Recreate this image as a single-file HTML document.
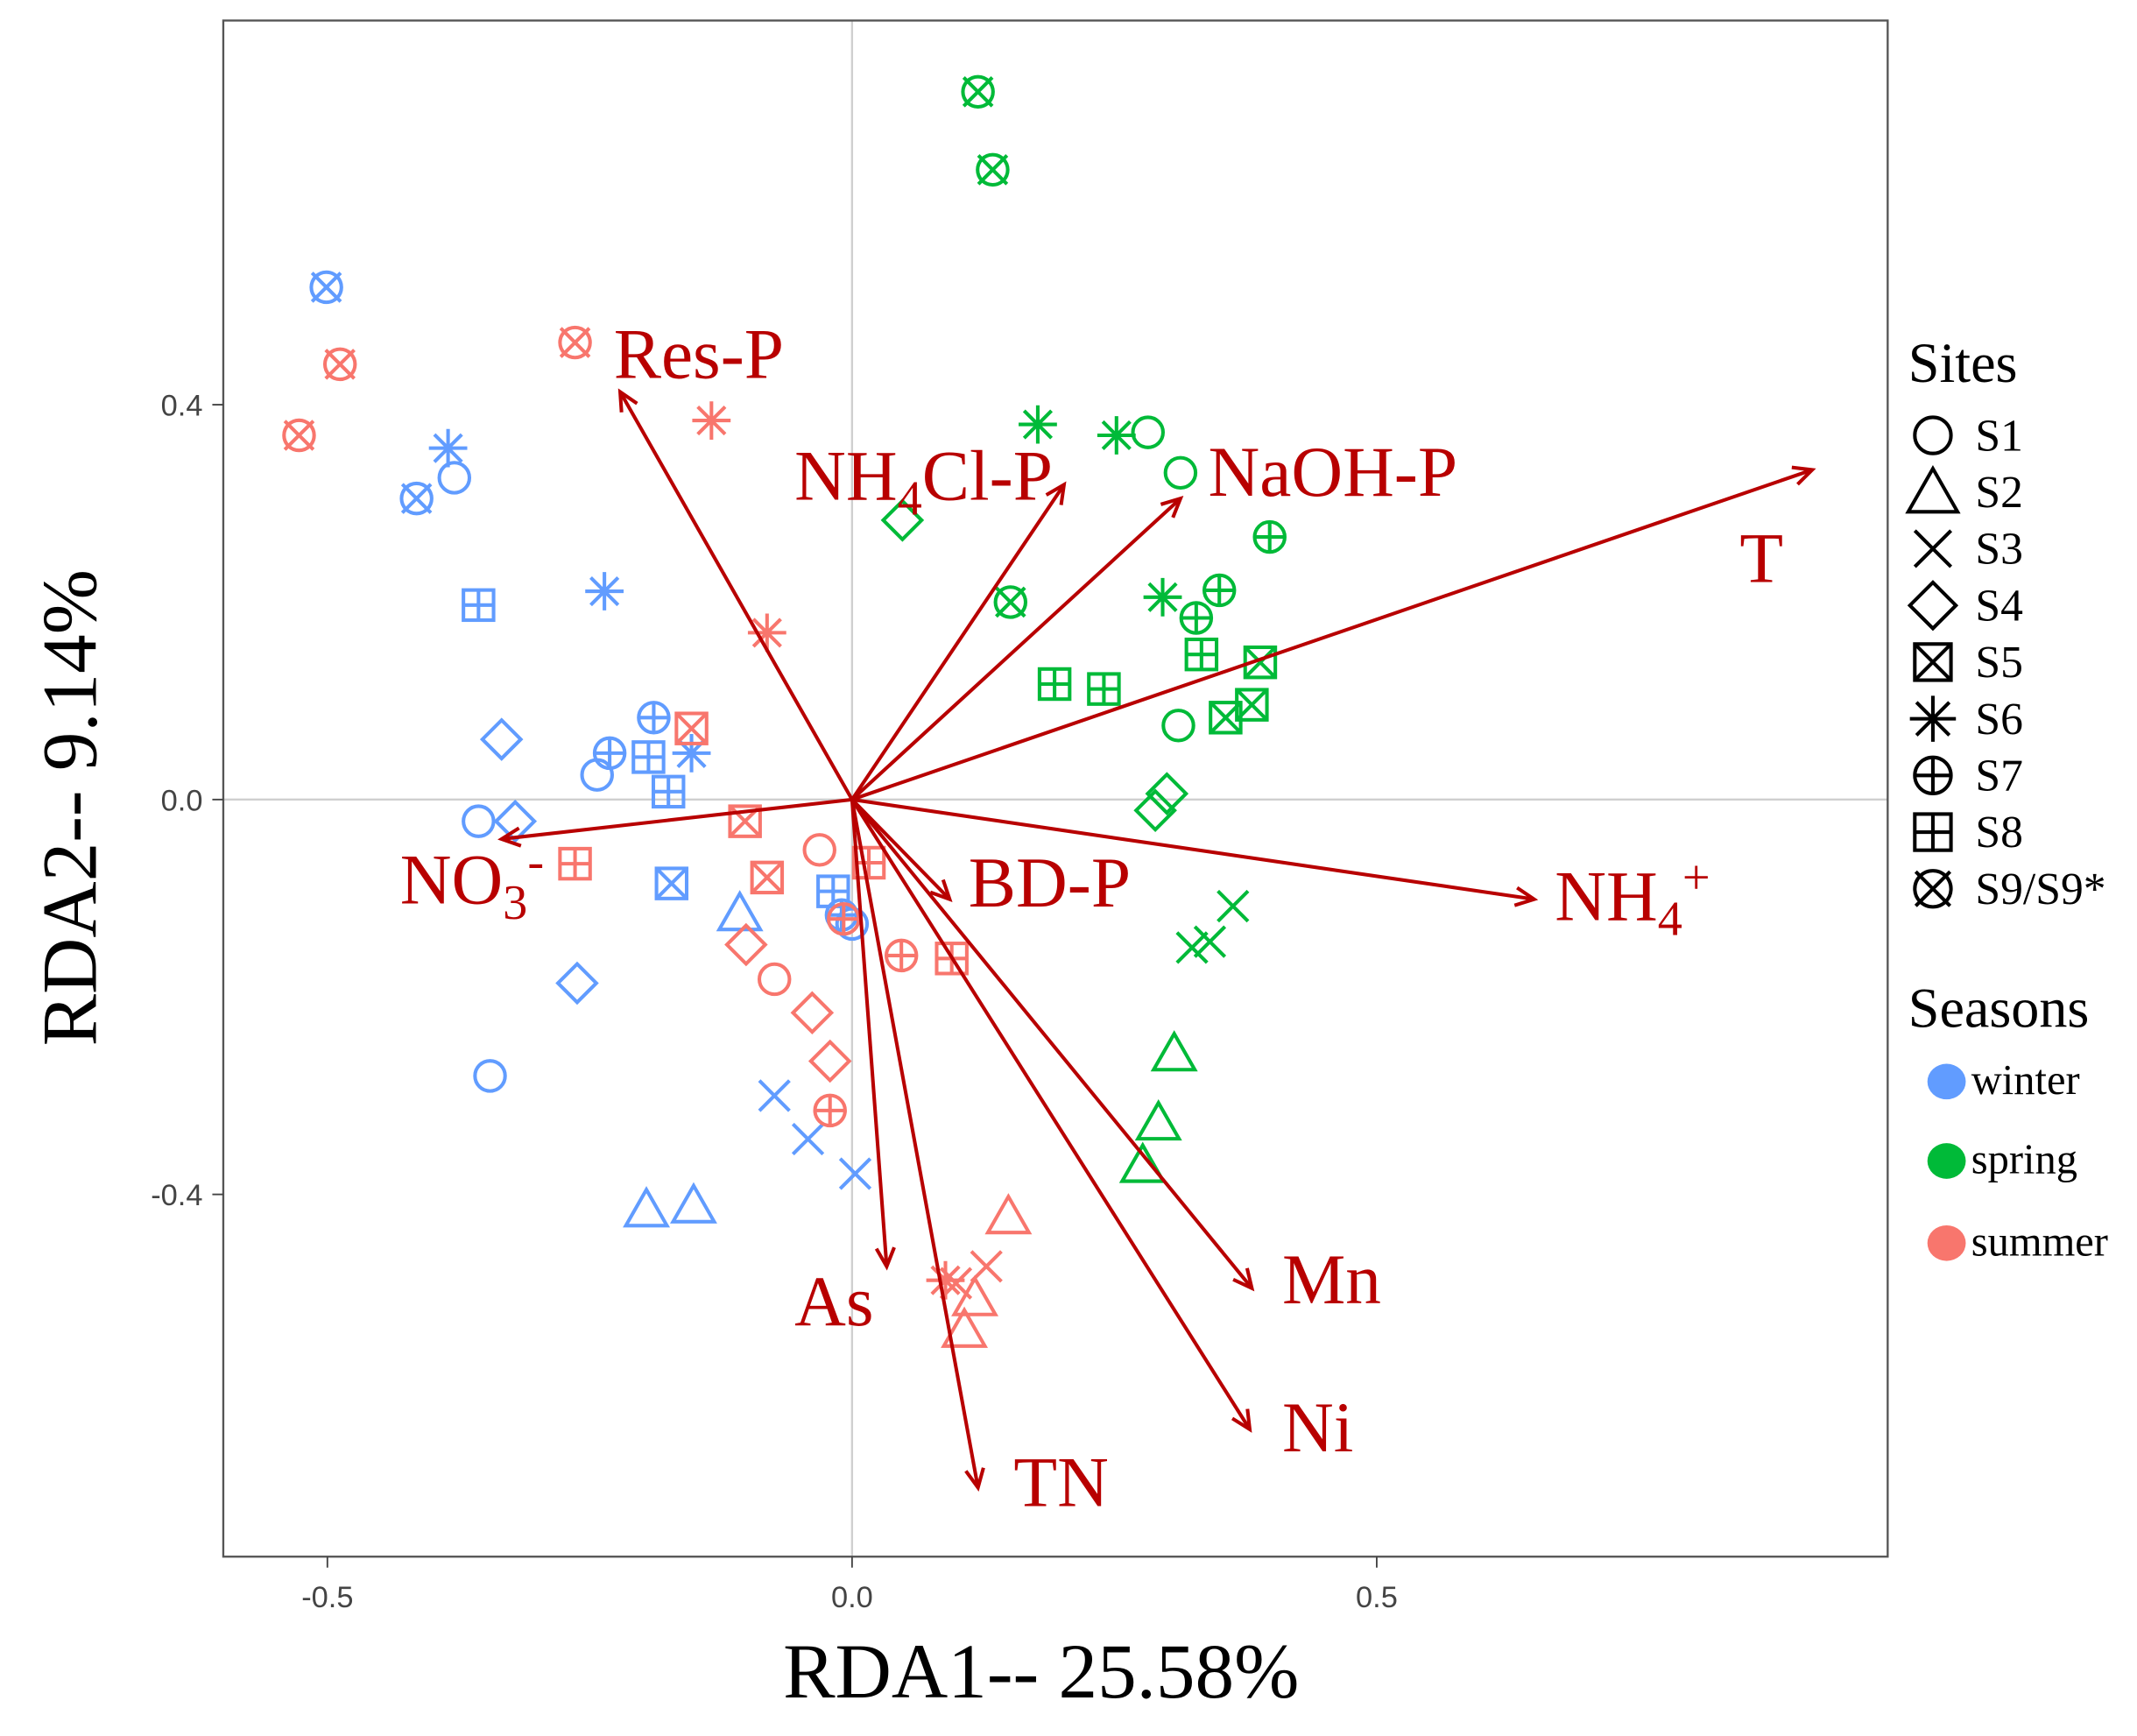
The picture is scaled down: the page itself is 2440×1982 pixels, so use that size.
<!DOCTYPE html>
<html><head><meta charset="utf-8"><style>html,body{margin:0;padding:0;background:#fff}svg{display:block}</style></head>
<body>
<svg id="chart" width="2440" height="1982" viewBox="0 0 1560 1268" preserveAspectRatio="none" xmlns="http://www.w3.org/2000/svg" font-family="'Liberation Serif', serif">
<defs><clipPath id="clip"><rect x="163" y="15" width="1215" height="1122"/></clipPath></defs>
<rect x="163" y="15" width="1215" height="1122" fill="#fff"/>
<g id="grid"></g>
<g id="points" clip-path="url(#clip)"></g>
<g id="arrows"></g>
<rect x="163" y="15" width="1215" height="1122" fill="none" stroke="#555" stroke-width="1.5"/>
<g id="axes"></g>
<text x="760" y="1240" font-size="57" text-anchor="middle" fill="#000">RDA1-- 25.58%</text>
<text transform="translate(70,590) rotate(-90)" font-size="57" text-anchor="middle" fill="#000">RDA2-- 9.14%</text>
<g id="legend"></g>
</svg>
<script>
const NS="http://www.w3.org/2000/svg";
const xTicks=[-0.5,0.0,0.5];
const xTickLabels=["-0.5","0.0","0.5"];
const yTicks=[-0.4,0.0,0.4];
const yTickLabels=["-0.4","0.0","0.4"];
const seasons=["winter","spring","summer"];
const seasonColors={winter:"#619cff",spring:"#00ba38",summer:"#f8766d"};
const sites=["S1","S2","S3","S4","S5","S6","S7","S8","S9"];
const siteLabels=["S1","S2","S3","S4","S5","S6","S7","S8","S9/S9*"];
// sample points: [site, RDA1, RDA2]
const winterPts=[["S9",-0.501,0.519],["S9",-0.415,0.305],["S6",-0.385,0.356],["S1",-0.379,0.326],["S8",-0.356,0.197],["S6",-0.236,0.211],["S4",-0.334,0.061],["S4",-0.321,-0.022],["S1",-0.356,-0.022],["S1",-0.345,-0.280],["S1",-0.243,0.025],["S7",-0.231,0.047],["S7",-0.189,0.083],["S8",-0.194,0.043],["S8",-0.175,0.008],["S6",-0.153,0.047],["S5",-0.172,-0.085],["S2",-0.107,-0.115],["S2",-0.196,-0.415],["S2",-0.151,-0.411],["S3",-0.074,-0.300],["S3",-0.042,-0.344],["S3",0.003,-0.379],["S4",-0.262,-0.186],["S8",-0.018,-0.093],["S7",-0.010,-0.117],["S1",0.0,-0.126]];
const springPts=[["S9",0.120,0.717],["S9",0.134,0.638],["S9",0.151,0.200],["S6",0.177,0.380],["S6",0.252,0.369],["S6",0.296,0.205],["S1",0.282,0.372],["S1",0.313,0.331],["S1",0.311,0.075],["S7",0.398,0.266],["S7",0.350,0.212],["S7",0.328,0.184],["S8",0.193,0.117],["S8",0.240,0.112],["S8",0.333,0.147],["S5",0.389,0.139],["S5",0.381,0.096],["S5",0.356,0.083],["S4",0.048,0.283],["S4",0.300,0.006],["S4",0.289,-0.011],["S3",0.363,-0.108],["S3",0.341,-0.144],["S3",0.324,-0.150],["S2",0.307,-0.257],["S2",0.292,-0.327],["S2",0.277,-0.370]];
const summerPts=[["S9",-0.527,0.369],["S9",-0.488,0.441],["S9",-0.264,0.463],["S6",-0.134,0.384],["S6",-0.081,0.169],["S5",-0.153,0.072],["S5",-0.102,-0.022],["S5",-0.081,-0.079],["S8",-0.264,-0.065],["S8",0.016,-0.064],["S8",0.095,-0.161],["S1",-0.031,-0.051],["S1",-0.074,-0.182],["S4",-0.101,-0.147],["S4",-0.038,-0.216],["S4",-0.021,-0.265],["S7",-0.008,-0.121],["S7",0.047,-0.158],["S7",-0.021,-0.315],["S2",0.149,-0.422],["S2",0.117,-0.505],["S2",0.107,-0.537],["S3",0.128,-0.473],["S3",0.099,-0.490],["S6",0.089,-0.487]];
const arrowNames=["T","NH4+","NaOH-P","NH4Cl-P","Res-P","NO3-","BD-P","As","TN","Mn","Ni"];
const arrowX=[0.915,0.650,0.313,0.202,-0.221,-0.334,0.093,0.033,0.120,0.381,0.379];
const arrowY=[0.334,-0.101,0.305,0.319,0.413,-0.040,-0.101,-0.473,-0.697,-0.495,-0.638];

function sx(v){return 622+v*766;}
function sy(v){return 584-v*721;}
function mk(tag,attrs,parent){const e=document.createElementNS(NS,tag);for(const k in attrs)e.setAttribute(k,attrs[k]);parent.appendChild(e);return e;}

const grid=document.getElementById('grid');
const gx=mk('line',{x1:sx(0),x2:sx(0),y1:15,y2:1137,stroke:'#cfcfcf','stroke-width':1.5},grid);


const gy=mk('line',{x1:163,x2:1378,y1:sy(0),y2:sy(0),stroke:'#cfcfcf','stroke-width':1.5},grid);



const axes=document.getElementById('axes');
xTicks.forEach((t,i)=>{
  const l=mk('line',{x1:sx(t),x2:sx(t),y1:1137,y2:1145,stroke:'#444','stroke-width':1.2},axes);
  
  
  const tx=mk('text',{x:sx(t),y:1174,'font-size':22,'text-anchor':'middle',fill:'#444','font-family':"'Liberation Sans', sans-serif"},axes);
  tx.textContent=xTickLabels[i];
  
  
});
yTicks.forEach((t,i)=>{
  const l=mk('line',{x1:155,x2:163,y1:sy(t),y2:sy(t),stroke:'#444','stroke-width':1.2},axes);
  
  
  const tx=mk('text',{x:148,y:sy(t)+8,'font-size':22,'text-anchor':'end',fill:'#444','font-family':"'Liberation Sans', sans-serif"},axes);
  tx.textContent=yTickLabels[i];
  
  
});

function drawShape(g,site,x,y,c,s){
  const a={fill:'none',stroke:c,'stroke-width':2.6};
  const r=11*s;
  if(site==='S1'){mk('circle',Object.assign({cx:x,cy:y,r:r},a),g);}
  else if(site==='S2'){const h=15*s;mk('polygon',Object.assign({points:`${x-h},${y+h*0.8} ${x+h},${y+h*0.8} ${x},${y-h*0.95}`},a),g);}
  else if(site==='S3'){mk('path',Object.assign({d:`M${x-r},${y-r}L${x+r},${y+r}M${x-r},${y+r}L${x+r},${y-r}`},a),g);}
  else if(site==='S4'){const h=14*s;mk('polygon',Object.assign({points:`${x},${y-h} ${x+h},${y} ${x},${y+h} ${x-h},${y}`},a),g);}
  else if(site==='S5'){mk('rect',Object.assign({x:x-r,y:y-r,width:2*r,height:2*r},a),g);mk('path',Object.assign({d:`M${x-r},${y-r}L${x+r},${y+r}M${x-r},${y+r}L${x+r},${y-r}`},a),g);}
  else if(site==='S6'){const h=14*s,d=10*s;mk('path',Object.assign({d:`M${x-h},${y}L${x+h},${y}M${x},${y-h}L${x},${y+h}M${x-d},${y-d}L${x+d},${y+d}M${x-d},${y+d}L${x+d},${y-d}`},a),g);}
  else if(site==='S7'){mk('circle',Object.assign({cx:x,cy:y,r:r},a),g);mk('path',Object.assign({d:`M${x-r},${y}L${x+r},${y}M${x},${y-r}L${x},${y+r}`},a),g);}
  else if(site==='S8'){mk('rect',Object.assign({x:x-r,y:y-r,width:2*r,height:2*r},a),g);mk('path',Object.assign({d:`M${x-r},${y}L${x+r},${y}M${x},${y-r}L${x},${y+r}`},a),g);}
  else {mk('circle',Object.assign({cx:x,cy:y,r:r},a),g);const d=r*0.95;mk('path',Object.assign({d:`M${x-d},${y-d}L${x+d},${y+d}M${x-d},${y+d}L${x+d},${y-d}`},a),g);}
}

const pg=document.getElementById('points');
[["winter",winterPts],["summer",summerPts],["spring",springPts]].forEach(([season,arr])=>{
  arr.forEach(p=>{
    const g=mk('g',{},pg);
    
    
    drawShape(g,p[0],sx(p[1]),sy(p[2]),seasonColors[season],1);
  });
});

const ag=document.getElementById('arrows');
const AC="#b80000";
const labelPos={"T":[1270,425],"NH4+":[1135,672],"NaOH-P":[882,362],"NH4Cl-P":[580,365],"Res-P":[448,276],"NO3-":[292,660],"BD-P":[707,662],"As":[580,968],"TN":[740,1100],"Mn":[936,952],"Ni":[936,1060]};
arrowNames.forEach((n,i)=>{
  const x0=sx(0),y0=sy(0),x1=sx(arrowX[i]),y1=sy(arrowY[i]);
  const g=mk('g',{},ag);
  
  
  mk('line',{x1:x0,y1:y0,x2:x1,y2:y1,stroke:AC,'stroke-width':2.6},g);
  const ang=Math.atan2(y1-y0,x1-x0),L=15,w=0.45;
  const p1=[x1-L*Math.cos(ang-w),y1-L*Math.sin(ang-w)],p2=[x1-L*Math.cos(ang+w),y1-L*Math.sin(ang+w)];
  mk('path',{d:`M${p1[0]},${p1[1]}L${x1},${y1}L${p2[0]},${p2[1]}`,fill:'none',stroke:AC,'stroke-width':2.6},g);
  const lp=labelPos[n];
  const t=mk('text',{x:lp[0],y:lp[1],'font-size':52,fill:AC},g);
  
  
  if(n==='NH4+'){t.innerHTML='NH<tspan font-size="36" dy="11">4</tspan><tspan font-size="36" dy="-30">+</tspan>';}
  else if(n==='NO3-'){t.innerHTML='NO<tspan font-size="36" dy="11">3</tspan><tspan font-size="36" dy="-30">-</tspan>';}
  else if(n==='NH4Cl-P'){t.innerHTML='NH<tspan font-size="36" dy="11">4</tspan><tspan dy="-11">Cl-P</tspan>';}
  else t.textContent=n;
});

const lg=document.getElementById('legend');
const st=mk('text',{x:1393,y:279,'font-size':41,fill:'#000'},lg);
st.textContent='Sites';


sites.forEach((s,i)=>{
  const y=318+i*41.4;
  const g=mk('g',{},lg);
  
  
  drawShape(g,s,1411,y,'#000',1.2);
  const t=mk('text',{x:1442,y:y+11,'font-size':33,fill:'#000'},g);
  t.textContent=siteLabels[i];
});
const se=mk('text',{x:1393,y:750,'font-size':41,fill:'#000'},lg);
se.textContent='Seasons';


const sY=[790,848,908];
seasons.forEach((s,i)=>{
  const g=mk('g',{},lg);
  
  
  mk('ellipse',{cx:1421,cy:sY[i],rx:14,ry:13,fill:seasonColors[s]},g);
  const t=mk('text',{x:1439,y:sY[i]+9,'font-size':31,fill:'#000'},g);
  t.textContent=s;
});
</script>
</body></html>
